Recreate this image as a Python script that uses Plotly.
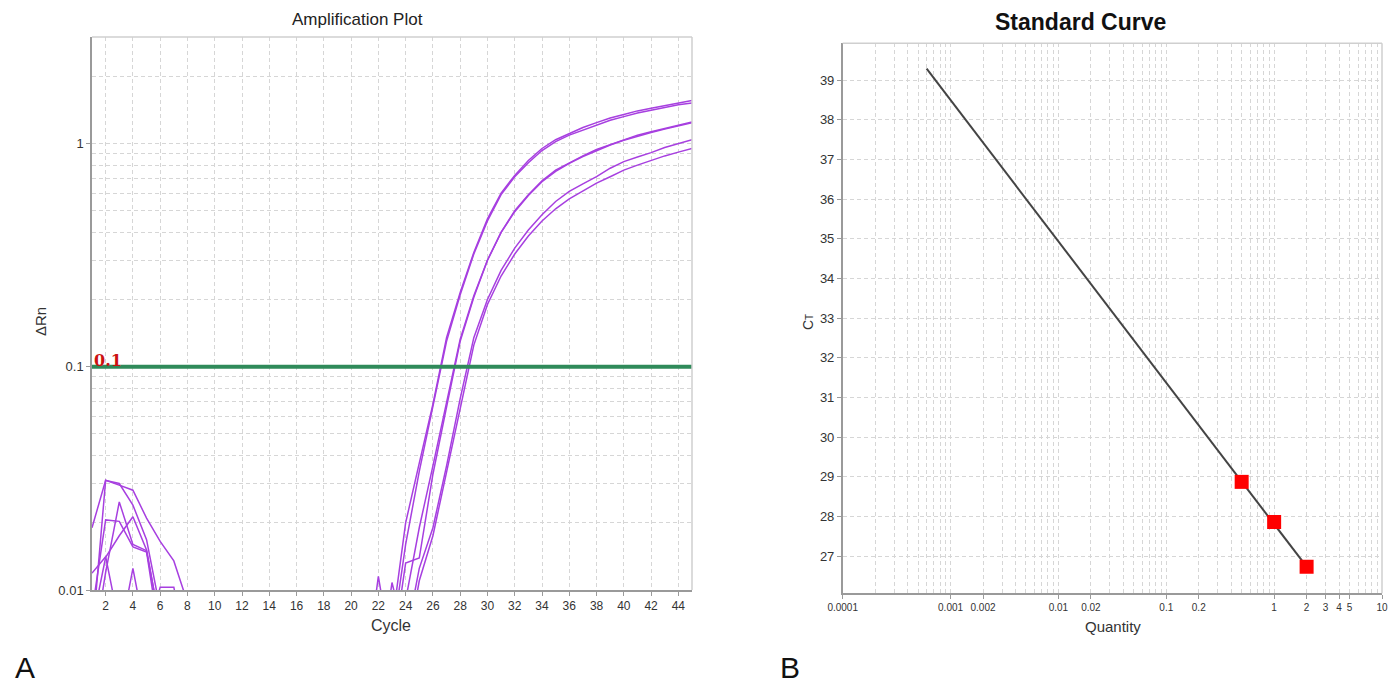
import math
import plotly.graph_objects as go

# page body adds an 8px offset; the figure is sized/positioned to compensate
OFF = 8
W, H = 1397 - OFF, 684 - OFF


def px(x):
    return (x - OFF) / W


def py(y):
    return 1 - (y - OFF) / H


# ---------------- data: amplification plot ----------------
cycles = list(range(1, 46))

well_top_a = [0.019, 0.031, 0.0295, 0.028, 0.021, 0.0165, 0.0135, 0.0088, 0.004, 0.004,
              0.004, 0.004, 0.004, 0.004, 0.004, 0.004, 0.004, 0.004, 0.004, 0.004,
              0.004, 0.004, 0.007, 0.02, 0.037, 0.068, 0.135, 0.215, 0.325, 0.46,
              0.6, 0.72, 0.84, 0.95, 1.04, 1.11, 1.18, 1.24, 1.30, 1.35,
              1.40, 1.44, 1.48, 1.52, 1.56]
well_top_b = [0.006, 0.031, 0.030, 0.024, 0.0168, 0.008, 0.004, 0.004, 0.004, 0.004,
              0.004, 0.004, 0.004, 0.004, 0.004, 0.004, 0.004, 0.004, 0.004, 0.004,
              0.004, 0.004, 0.006, 0.016, 0.034, 0.066, 0.13, 0.21, 0.32, 0.45,
              0.59, 0.71, 0.82, 0.93, 1.02, 1.09, 1.15, 1.21, 1.27, 1.32,
              1.37, 1.41, 1.45, 1.49, 1.52]
well_mid_a = [0.008, 0.0206, 0.0203, 0.0156, 0.0148, 0.006, 0.004, 0.004, 0.004, 0.004,
              0.004, 0.004, 0.004, 0.004, 0.004, 0.004, 0.004, 0.004, 0.004, 0.004,
              0.004, 0.004, 0.005, 0.0132, 0.0139, 0.033, 0.066, 0.13, 0.205, 0.30,
              0.40, 0.50, 0.59, 0.68, 0.76, 0.82, 0.88, 0.94, 0.99, 1.04,
              1.09, 1.13, 1.17, 1.21, 1.25]
well_mid_b = [0.0119, 0.0141, 0.007, 0.004, 0.004, 0.004, 0.004, 0.004, 0.004, 0.004,
              0.004, 0.004, 0.004, 0.004, 0.004, 0.004, 0.004, 0.004, 0.004, 0.004,
              0.004, 0.0115, 0.005, 0.009, 0.019, 0.036, 0.07, 0.133, 0.208, 0.30,
              0.40, 0.495, 0.585, 0.675, 0.75, 0.815, 0.875, 0.93, 0.985, 1.035,
              1.08, 1.12, 1.16, 1.20, 1.24]
well_low_a = [0.005, 0.012, 0.0248, 0.016, 0.015, 0.007, 0.004, 0.004, 0.004, 0.004,
              0.004, 0.004, 0.004, 0.004, 0.004, 0.004, 0.004, 0.004, 0.004, 0.004,
              0.004, 0.004, 0.0108, 0.006, 0.0125, 0.019, 0.036, 0.072, 0.135, 0.20,
              0.27, 0.34, 0.41, 0.48, 0.55, 0.61, 0.66, 0.71, 0.775, 0.83,
              0.87, 0.91, 0.96, 1.0, 1.04]
well_low_b = [0.007, 0.014, 0.0175, 0.0213, 0.0151, 0.007, 0.004, 0.004, 0.004, 0.004,
              0.004, 0.004, 0.004, 0.004, 0.004, 0.004, 0.004, 0.004, 0.004, 0.004,
              0.004, 0.004, 0.004, 0.005, 0.011, 0.0175, 0.034, 0.066, 0.125, 0.19,
              0.255, 0.32, 0.385, 0.45, 0.51, 0.565, 0.615, 0.665, 0.71, 0.76,
              0.80, 0.84, 0.88, 0.915, 0.95]
well_ntc = [0.004, 0.006, 0.006, 0.0125, 0.006, 0.0103, 0.0103, 0.005, 0.004, 0.004,
            0.004, 0.004, 0.004, 0.004, 0.004, 0.004, 0.004, 0.004, 0.004, 0.004,
            0.004, 0.004, 0.004, 0.004, 0.004, 0.004, 0.004, 0.004, 0.004, 0.004,
            0.004, 0.004, 0.004, 0.004, 0.004, 0.004, 0.004, 0.004, 0.004, 0.004,
            0.004, 0.004, 0.004, 0.004, 0.004]

wells = [well_top_a, well_top_b, well_mid_a, well_mid_b, well_low_a, well_low_b, well_ntc]
threshold = 0.1

amp_xtick_vals = [2, 4, 6, 8, 10, 12, 14, 16, 18, 20, 22, 24, 26, 28, 30, 32, 34, 36, 38, 40, 42, 44]
amp_ytick_vals = [0.01, 0.1, 1]
amp_ytick_text = ["0.01", "0.1", "1"]

# ---------------- data: standard curve ----------------
std_quantity = [0.5, 1, 2]
std_ct = [28.87, 27.86, 26.73]
fit_quantity = [0.0006, 2]
fit_ct = [39.29, 26.73]

std_xtick_vals = [0.0001, 0.001, 0.002, 0.01, 0.02, 0.1, 0.2, 1, 2, 3, 4, 5, 10]
std_xtick_text = ["0.0001", "0.001", "0.002", "0.01", "0.02", "0.1", "0.2", "1", "2", "3", "4", "5", "10"]
std_ytick_vals = [27, 28, 29, 30, 31, 32, 33, 34, 35, 36, 37, 38, 39]

# ---------------- style ----------------
NARROW = "Liberation Sans Narrow, Arial Narrow, Liberation Sans, Arial, sans-serif"
SANS = "Liberation Sans, Arial, sans-serif"
PURPLE = "#a73fe0"
GRID = "#d6d6d6"
AXIS = "#9a9a9a"
FRAME = "#cfcfcf"

fig = go.Figure()

for w in wells:
    fig.add_trace(go.Scatter(x=cycles, y=w, mode="lines", xaxis="x", yaxis="y",
                             line=dict(color=PURPLE, width=1.5), showlegend=False,
                             hoverinfo="skip"))

fig.add_trace(go.Scatter(x=[cycles[0], cycles[-1]], y=[threshold, threshold], mode="lines",
                         xaxis="x", yaxis="y", line=dict(color="#2f8a5a", width=4),
                         showlegend=False, hoverinfo="skip"))

fig.add_trace(go.Scatter(x=fit_quantity, y=fit_ct, mode="lines", xaxis="x2", yaxis="y2",
                         line=dict(color="#444444", width=2), showlegend=False))
fig.add_trace(go.Scatter(x=std_quantity, y=std_ct, mode="markers", xaxis="x2", yaxis="y2",
                         marker=dict(symbol="square", size=14, color="#ff0000",
                                     line=dict(width=0)), showlegend=False))

grid_common = dict(showgrid=True, gridcolor=GRID, griddash="4px,3px", gridwidth=1,
                   zeroline=False, showline=True, linecolor=AXIS, linewidth=1.5,
                   ticks="outside", ticklen=4, tickcolor=AXIS, automargin=False)

fig.update_layout(
    template="none",
    width=W, height=H, autosize=False,
    margin=dict(l=0, r=0, t=0, b=0, pad=0),
    paper_bgcolor="white", plot_bgcolor="white",
    xaxis=dict(domain=[px(92), px(692)], range=[1, 45], anchor="y",
               tickmode="array", tickvals=amp_xtick_vals,
               tickfont=dict(family=NARROW, size=12, color="#333"), **grid_common),
    yaxis=dict(domain=[py(590), py(37)], type="log", range=[-2, math.log10(3)], anchor="x",
               tickmode="array", tickvals=amp_ytick_vals, ticktext=amp_ytick_text,
               minor=dict(dtick="D1", showgrid=True, gridcolor=GRID, griddash="4px,3px",
                          ticks=""),
               tickfont=dict(family=SANS, size=13, color="#333"), **grid_common),
    xaxis2=dict(domain=[px(842.7), px(1382)], type="log", range=[-4, 1], anchor="y2",
                tickmode="array", tickvals=std_xtick_vals, ticktext=std_xtick_text,
                minor=dict(dtick="D1", showgrid=True, gridcolor=GRID, griddash="4px,3px",
                           ticks=""),
                tickfont=dict(family=NARROW, size=10, color="#333"), **grid_common),
    yaxis2=dict(domain=[py(593.3), py(43.3)], range=[26.06, 39.93], anchor="x2",
                tickmode="array", tickvals=std_ytick_vals,
                tickfont=dict(family=SANS, size=13, color="#333"), **grid_common),
)

# light frame on top/right of each plot
for xr, yr in (("x domain", "y domain"), ("x2 domain", "y2 domain")):
    fig.add_shape(type="line", xref=xr, yref=yr, x0=0, x1=1, y0=1, y1=1,
                  line=dict(color=FRAME, width=1.5), layer="above")
    fig.add_shape(type="line", xref=xr, yref=yr, x0=1, x1=1, y0=0, y1=1,
                  line=dict(color=FRAME, width=1.5), layer="above")


def label(text, x, y, size, family=SANS, color="#333", angle=0):
    return dict(text=text, x=px(x), y=py(y), xref="paper", yref="paper",
                xanchor="center", yanchor="middle", showarrow=False, textangle=angle,
                font=dict(family=family, size=size, color=color))


ann = [
    label("Amplification Plot", 357, 19, 17, NARROW, "#222"),
    label("<b>Standard Curve</b>", 1080, 22, 23, SANS, "#111"),
    label("Cycle", 391, 625, 16, NARROW),
    label("Quantity", 1113, 626, 15, NARROW),
    label("ΔRn", 40, 322, 15, SANS, angle=-90),
    label("C<span style='font-size:10px'>T</span>", 808, 322, 14, SANS, angle=-90),
    label("A", 25, 667, 30, SANS, "#111"),
    label("B", 790, 667, 30, SANS, "#111"),
    dict(text="<b>%g</b>" % threshold, x=0, y=math.log10(threshold),
         xref="x domain", yref="y", xanchor="left", yanchor="bottom", yshift=-5,
         showarrow=False, font=dict(family="DejaVu Serif, Liberation Serif, serif",
                                    size=16, color="#cc1111")),
]
fig.update_layout(annotations=ann)

fig.write_html("out.html")
